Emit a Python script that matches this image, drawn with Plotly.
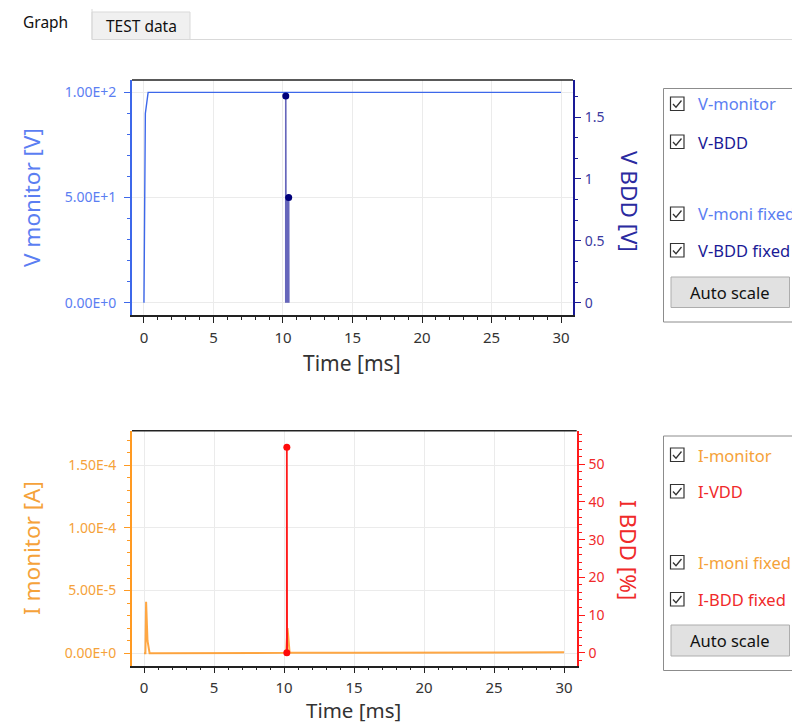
import plotly.graph_objects as go

# ---------------- data ----------------
vmon_t = [0.0, 0.1, 0.3, 5.0, 10.0, 15.0, 20.0, 25.0, 30.0]
vmon_v = [0.0, 90.0, 100.0, 100.0, 100.0, 100.0, 100.0, 100.0, 100.0]

vbdd_t = [10.2, 10.2, 10.22, 10.26, 10.3, 10.34, 10.38, 10.41, 10.42]
vbdd_v = [0.0, 1.67, 0.0, 0.85, 0.0, 0.85, 0.0, 0.85, 0.0]

vbdd_fix_t = [10.2, 10.41]
vbdd_fix_v = [1.67, 0.85]

imon_t = [0.0, 0.1, 0.15, 0.25, 0.4, 3.0, 6.8, 6.9, 10.15, 10.25, 10.4, 15.0, 19.0, 19.1, 25.0, 30.0]
imon_v = [0.0, 0.0, 4.1e-5, 1.0e-5, 0.0, 0.0, 0.0, 4e-7, 4e-7, 2.0e-5, 4e-7, 4e-7, 4e-7, 8e-7, 8e-7, 8e-7]

ibdd_t = [10.2, 10.2, 10.22]
ibdd_v = [0.0, 54.5, 0.0]

ibdd_fix_t = [10.2, 10.2]
ibdd_fix_v = [54.5, 0.0]

x_ticks = [0, 5, 10, 15, 20, 25, 30]
v_ticks = [0, 50, 100]
v_ticktext = ["0.00E+0", "5.00E+1", "1.00E+2"]
vb_ticks = [0, 0.5, 1, 1.5]
vb_ticktext = ["0", "0.5", "1", "1.5"]
i_ticks = [0, 5e-5, 1e-4, 1.5e-4]
i_ticktext = ["0.00E+0", "5.00E-5", "1.00E-4", "1.50E-4"]
ib_ticks = [0, 10, 20, 30, 40, 50]

v_legend = ["V-monitor", "V-BDD", "V-moni fixed", "V-BDD fixed"]
i_legend = ["I-monitor", "I-VDD", "I-moni fixed", "I-BDD fixed"]

# ---------------- colours ----------------
C_VMON = "#3d68ea"
C_VMON_TXT = "#5b7ef2"
C_VBDD = "#1a1a96"
C_IMON = "#ff9a22"
C_IMON_TXT = "#f5a23a"
C_IBDD = "#ff1a1a"
C_IBDD_TXT = "#f02a2a"
FONT = "Noto Sans"
W, H = 792, 724
TICK_FS = 14


def px(x):
    return x / W


def py(y):
    return 1 - y / H


fig = go.Figure()

fig.add_trace(go.Scatter(x=vmon_t, y=vmon_v, mode="lines", name="V-monitor",
                         line=dict(color=C_VMON, width=1.4), xaxis="x", yaxis="y"))
fig.add_trace(go.Scatter(x=vbdd_t, y=vbdd_v, mode="lines", name="V-BDD",
                         line=dict(color="rgba(20,20,150,0.65)", width=1.6), xaxis="x", yaxis="y2"))
fig.add_trace(go.Scatter(x=vbdd_fix_t, y=vbdd_fix_v, mode="markers", name="V-BDD fixed",
                         marker=dict(color="#00007a", size=7), xaxis="x", yaxis="y2"))

fig.add_trace(go.Scatter(x=imon_t, y=imon_v, mode="lines", name="I-monitor",
                         line=dict(color="rgba(255,145,20,0.8)", width=2), xaxis="x2", yaxis="y3"))
fig.add_trace(go.Scatter(x=ibdd_t, y=ibdd_v, mode="lines", name="I-VDD",
                         line=dict(color=C_IBDD, width=1.8), xaxis="x2", yaxis="y4"))
fig.add_trace(go.Scatter(x=ibdd_fix_t, y=ibdd_fix_v, mode="markers", name="I-BDD fixed",
                         marker=dict(color="#ff0a0a", size=7), xaxis="x2", yaxis="y4"))

tickfont_x = dict(family=FONT, size=TICK_FS + 1, color="#333333")

xcommon = dict(tickvals=x_ticks, ticks="outside", ticklen=6, tickwidth=1, tickcolor="#222",
               showline=True, linecolor="#222", linewidth=1.5, showgrid=True, gridcolor="#ebebeb",
               zeroline=False, tickfont=tickfont_x, ticklabelstandoff=2,
               minor=dict(dtick=1, ticks="outside", ticklen=3, tickcolor="#222", showgrid=False))

fig.update_layout(
    width=W, height=H, margin=dict(l=0, r=0, t=0, b=0),
    paper_bgcolor="white", plot_bgcolor="white", showlegend=False,
    font=dict(family=FONT),
    hovermode=False,
    xaxis=dict(domain=[px(132), px(573)], range=[-0.86, 30.86], anchor="y", **xcommon),
    yaxis=dict(domain=[py(315), py(80)], range=[-5.86, 105.9], tickvals=v_ticks, ticktext=v_ticktext,
               ticks="outside", ticklen=6, tickcolor=C_VMON, showline=True, linecolor=C_VMON,
               linewidth=1.8, showgrid=True, gridcolor="#ebebeb", zeroline=False, ticklabelstandoff=5,
               tickfont=dict(family=FONT, size=TICK_FS, color=C_VMON_TXT),
               minor=dict(dtick=10, ticks="outside", ticklen=3, tickcolor=C_VMON, showgrid=False)),
    yaxis2=dict(overlaying="y", side="right", anchor="x", range=[-0.0995, 1.80], tickvals=vb_ticks,
                ticktext=vb_ticktext, ticks="outside", ticklen=6, tickcolor=C_VBDD, showline=True,
                linecolor=C_VBDD, linewidth=1.8, showgrid=False, zeroline=False, ticklabelstandoff=1,
                tickfont=dict(family=FONT, size=TICK_FS, color="#3a3aa0"),
                minor=dict(dtick=0.5 / 3, ticks="outside", ticklen=3, tickcolor=C_VBDD)),
    xaxis2=dict(domain=[px(132), px(576.7)], range=[-0.857, 30.9], anchor="y3", **xcommon),
    yaxis3=dict(domain=[py(665.7), py(430.7)], range=[-0.99e-5, 1.775e-4], tickvals=i_ticks,
                ticktext=i_ticktext, ticks="outside", ticklen=6, tickcolor=C_IMON, showline=True,
                linecolor=C_IMON, linewidth=1.8, showgrid=True, gridcolor="#ebebeb", zeroline=False,
                ticklabelstandoff=5,
                tickfont=dict(family=FONT, size=TICK_FS, color=C_IMON_TXT),
                minor=dict(dtick=1e-5, ticks="outside", ticklen=3, tickcolor=C_IMON, showgrid=False)),
    yaxis4=dict(overlaying="y3", side="right", anchor="x2", range=[-3.45, 58.9], tickvals=ib_ticks,
                ticks="outside", ticklen=6, tickcolor=C_IBDD, showline=True, linecolor=C_IBDD,
                linewidth=1.8, showgrid=False, zeroline=False, ticklabelstandoff=1,
                tickfont=dict(family=FONT, size=TICK_FS, color=C_IBDD_TXT),
                minor=dict(dtick=2, ticks="outside", ticklen=3, tickcolor=C_IBDD)),
)

shapes = []
annotations = []

# plot top borders
shapes.append(dict(type="line", xref="paper", yref="paper", x0=px(132), x1=px(573), y0=py(80), y1=py(80),
                   line=dict(color="#222", width=1.5)))
shapes.append(dict(type="line", xref="paper", yref="paper", x0=px(132), x1=px(576.7), y0=py(430.7),
                   y1=py(430.7), line=dict(color="#222", width=1.5)))


# axis titles
def title(text, x, y, color, angle, size=22.5):
    annotations.append(dict(text=text, x=px(x), y=py(y), xref="paper", yref="paper", showarrow=False,
                            textangle=angle, font=dict(family=FONT, size=size, color=color),
                            xanchor="center", yanchor="middle"))


title("V monitor [V]", 31, 198, C_VMON_TXT, -90)
title("V BDD [V]", 630, 201, "#2a2aa0", 90)
title("Time [ms]", 352, 363, "#333333", 0, 21)
title("I monitor [A]", 31, 548, C_IMON_TXT, -90)
title("I BDD [%]", 629, 550, C_IBDD_TXT, 90)
title("Time [ms]", 353, 710, "#333333", 0, 20.5)

# tabs
shapes.append(dict(type="line", xref="paper", yref="paper", x0=px(92), x1=px(792), y0=py(39.5), y1=py(39.5),
                   line=dict(color="#d9d9d9", width=1)))
shapes.append(dict(type="rect", xref="paper", yref="paper", x0=px(92), x1=px(190), y0=py(39.5), y1=py(12),
                   fillcolor="#f0f0f0", line=dict(color="#d9d9d9", width=1)))
shapes.append(dict(type="line", xref="paper", yref="paper", x0=px(92), x1=px(92), y0=py(39.5), y1=py(9),
                   line=dict(color="#d9d9d9", width=1)))
annotations.append(dict(text="Graph", x=px(45), y=py(22), xref="paper", yref="paper", showarrow=False,
                        font=dict(family=FONT, size=15.5, color="#111"), xanchor="center", yanchor="middle"))
annotations.append(dict(text="TEST data", x=px(141), y=py(25.5), xref="paper", yref="paper", showarrow=False,
                        font=dict(family=FONT, size=15.5, color="#111"), xanchor="center", yanchor="middle"))


def panel(top, bottom, labels, colors, rows, btn):
    shapes.append(dict(type="rect", xref="paper", yref="paper", x0=px(663.5), x1=px(800), y0=py(bottom),
                       y1=py(top), fillcolor="white", line=dict(color="#8c8c8c", width=1)))
    for lab, col, yc in zip(labels, colors, rows):
        shapes.append(dict(type="rect", xref="paper", yref="paper", x0=px(670.5), x1=px(684),
                           y0=py(yc + 6.5), y1=py(yc - 7), line=dict(color="#333", width=1.2),
                           fillcolor="white"))
        path = "M {:.5f},{:.5f} L {:.5f},{:.5f} L {:.5f},{:.5f}".format(
            px(673), py(yc), px(676), py(yc + 3.2), px(681.5), py(yc - 3.5))
        shapes.append(dict(type="path", xref="paper", yref="paper", path=path,
                           line=dict(color="#333", width=1.3)))
        annotations.append(dict(text=lab, x=px(696), y=py(yc), xref="paper", yref="paper", showarrow=False,
                                font=dict(family=FONT, size=16.5, color=col), xanchor="left",
                                yanchor="middle"))
    shapes.append(dict(type="rect", xref="paper", yref="paper", x0=px(671), x1=px(789.5), y0=py(btn[1]),
                       y1=py(btn[0]), fillcolor="#e1e1e1", line=dict(color="#adadad", width=1)))
    annotations.append(dict(text="Auto scale", x=px(730), y=py((btn[0] + btn[1]) / 2), xref="paper",
                            yref="paper", showarrow=False, font=dict(family=FONT, size=16.5, color="#111"),
                            xanchor="center", yanchor="middle"))


panel(88.5, 322, v_legend, [C_VMON_TXT, C_VBDD, C_VMON_TXT, C_VBDD], [104, 142, 214, 250.5], (277, 307.5))
panel(436, 670.5, i_legend, [C_IMON_TXT, C_IBDD_TXT, C_IMON_TXT, C_IBDD_TXT], [455, 491.5, 562.5, 599.5],
      (625, 656))

fig.update_layout(shapes=shapes, annotations=annotations)

fig.write_html("out.html", config={"displayModeBar": False},
               post_script="document.body.style.margin='0';document.body.style.overflow='hidden';")
